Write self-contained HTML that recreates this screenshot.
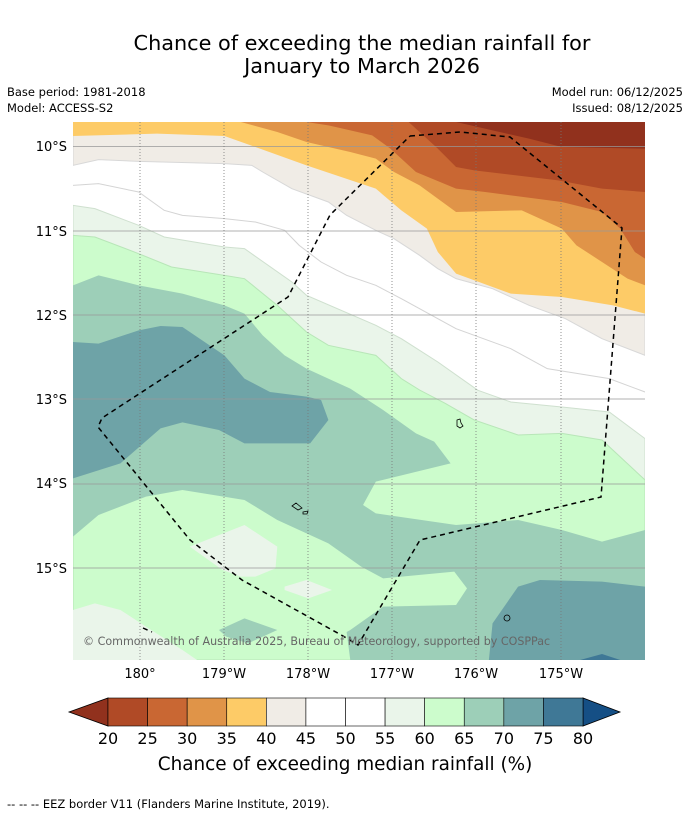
<!DOCTYPE html>
<html><head><meta charset="utf-8"><style>
body{margin:0;background:#fff;width:690px;height:816px;overflow:hidden;font-family:"Liberation Sans","DejaVu Sans",sans-serif}
svg text{font-family:"DejaVu Sans","Liberation Sans",sans-serif}
</style></head><body>
<svg id="s" width="690" height="816" viewBox="0 0 690 816">
<rect width="690" height="816" fill="#fff"/>
<text x="362" y="50" font-size="20.8" text-anchor="middle">Chance of exceeding the median rainfall for</text>
<text x="362" y="73" font-size="20.8" text-anchor="middle">January to March 2026</text>
<text x="7" y="96" font-size="11.5">Base period: 1981-2018</text>
<text x="7" y="112" font-size="11.5">Model: ACCESS-S2</text>
<text x="683" y="96" font-size="11.5" text-anchor="end">Model run: 06/12/2025</text>
<text x="683" y="112" font-size="11.5" text-anchor="end">Issued: 08/12/2025</text>
<defs><clipPath id="mc"><rect x="73" y="122" width="572" height="538"/></clipPath></defs>
<g clip-path="url(#mc)">
<rect x="73" y="122" width="572" height="538" fill="#fff"/>
<g transform="translate(73,122) scale(0.36483,0.33333)" stroke-width="3">
<polygon fill="#f0ece6" stroke="#d8d8d8" points="0,0 1568,0 1568,700 1450,650 1350,590 1250,550 1150,500 1050,470 1000,440 950,400 880,350 830,325 750,280 700,240 600,200 520,150 490,130 415,125 180,118 70,113 0,130"/>
<polygon fill="#fdcb67" points="0,0 1568,0 1568,575 1480,550 1340,525 1200,515 1050,455 1000,390 970,320 900,265 830,200 640,130 500,75 415,42 230,35 0,42"/>
<polygon fill="#e09448" points="460,0 1568,0 1568,490 1520,470 1450,420 1380,370 1340,320 1230,265 1050,270 950,190 880,150 830,110 760,90 640,60 560,30"/>
<polygon fill="#c96733" points="640,0 1568,0 1568,410 1540,390 1500,320 1450,270 1340,240 1130,210 1050,200 940,150 870,80 820,40 700,10"/>
<polygon fill="#b04a26" points="920,0 1568,0 1568,210 1450,200 1330,175 1100,145 1050,135 1000,80"/>
<polygon fill="#91311d" points="1050,0 1568,0 1568,80 1340,75 1250,50 1150,25"/>
<polyline fill="none" stroke="#d4d4d4" points="0,190 70,185 180,210 250,265 300,280 415,290 500,300 580,325 620,370 680,420 750,460 830,490 900,530 1000,590 1050,620 1200,680 1300,740 1470,770 1568,810"/>
<polygon fill="#eaf5ea" stroke="#cfe0cf" points="0,250 60,260 180,310 250,345 415,375 470,380 600,480 640,520 830,610 900,650 1000,720 1110,805 1200,840 1340,855 1470,870 1568,950 1568,1614 0,1614"/>
<polygon fill="#ccfccc" stroke="#b8e6b8" points="0,340 60,345 180,395 270,435 415,460 470,470 560,550 640,630 700,670 830,700 900,770 950,804 1020,844 1100,894 1220,939 1340,934 1450,954 1568,1074 1568,1614 0,1614"/>
<polygon fill="#9dcfb8" points="0,490 70,460 180,490 300,515 415,550 470,575 520,640 580,700 640,740 760,800 850,864 940,934 990,959 1035,1024 830,1079 795,1149 830,1174 1050,1209 1220,1194 1340,1224 1450,1259 1568,1224 1568,1614 760,1614 750,1530 760,1524 850,1454 1050,1449 1080,1399 1045,1349 850,1369 790,1334 700,1264 560,1194 470,1134 300,1104 200,1124 70,1179 0,1244"/>
<polygon fill="#6ea3a7" points="0,660 70,665 180,625 240,612 300,615 415,700 470,770 540,810 640,824 680,834 700,894 650,964 470,964 400,924 300,901 240,919 130,1024 0,1069"/>
<polygon fill="#6ea3a7" points="1140,1614 1150,1504 1220,1394 1280,1374 1450,1379 1568,1394 1568,1614"/>
<polygon fill="#3f7896" points="1390,1614 1450,1596 1500,1614"/>
<polygon fill="#9dcfb8" points="400,1524 470,1489 560,1524 480,1564 420,1544"/>
<polygon fill="#eaf5ea" points="320,1274 470,1209 560,1274 555,1339 500,1364 460,1364 410,1344"/>
<polygon fill="#eaf5ea" points="580,1394 640,1374 710,1404 645,1429 580,1404"/>
<polygon fill="#eaf5ea" points="0,1464 60,1444 130,1464 200,1514 300,1584 340,1614 0,1614"/>
</g>
<g>
<line x1="73" x2="645" y1="146.5" y2="146.5" stroke="#999" stroke-width="0.8"/>
<line x1="73" x2="645" y1="231" y2="231" stroke="#999" stroke-width="0.8"/>
<line x1="73" x2="645" y1="315" y2="315" stroke="#999" stroke-width="0.8"/>
<line x1="73" x2="645" y1="399" y2="399" stroke="#999" stroke-width="0.8"/>
<line x1="73" x2="645" y1="484" y2="484" stroke="#999" stroke-width="0.8"/>
<line x1="73" x2="645" y1="568" y2="568" stroke="#999" stroke-width="0.8"/>
<g stroke="#777" stroke-width="0.8" stroke-dasharray="1,2">
<line x1="140" x2="140" y1="122" y2="660"/><line x1="224" x2="224" y1="122" y2="660"/><line x1="308" x2="308" y1="122" y2="660"/><line x1="392" x2="392" y1="122" y2="660"/><line x1="476" x2="476" y1="122" y2="660"/><line x1="561" x2="561" y1="122" y2="660"/>
</g></g>
<polyline fill="none" stroke="#000" stroke-width="1.5" stroke-dasharray="5,4" points="410,136 460,132 510,137 622,228 601,497 420,540 358,645 343,636 242,580 190,540 98,427 102,418 288,297 330,215 410,136"/>
<polyline fill="none" stroke="#000" stroke-width="1.5" stroke-dasharray="5,4" points="143,628 152,632"/>
<path d="M457,420 l3,-1 l1,4 l2,3 l-3,2 l-3,-2z" fill="none" stroke="#000" stroke-width="0.8"/>
<path d="M292,506 l4,-3 l6,5 l-4,2z M303,512 l5,-1 l-1,3 l-4,0z" fill="none" stroke="#000" stroke-width="0.8"/>
<circle cx="507" cy="618" r="3" fill="none" stroke="#000" stroke-width="0.8"/>
<text x="83" y="645" font-size="11.1" fill="#666">© Commonwealth of Australia 2025, Bureau of Meteorology, supported by COSPPac</text>
</g>
<g font-size="13">
<text x="67" y="151" text-anchor="end">10°S</text><text x="67" y="236" text-anchor="end">11°S</text><text x="67" y="320" text-anchor="end">12°S</text><text x="67" y="404" text-anchor="end">13°S</text><text x="67" y="488" text-anchor="end">14°S</text><text x="67" y="573" text-anchor="end">15°S</text>
</g>
<g font-size="13" text-anchor="middle">
<text x="140" y="678">180°</text><text x="224" y="678">179°W</text><text x="308" y="678">178°W</text><text x="392" y="678">177°W</text><text x="476" y="678">176°W</text><text x="561" y="678">175°W</text>
</g>
<g id="cb"></g>
<text x="345" y="770" font-size="18.4" text-anchor="middle">Chance of exceeding median rainfall (%)</text>
<text x="7" y="808" font-size="11.5">--  --  -- EEZ border V11 (Flanders Marine Institute, 2019).</text>
</svg>
<script>
const levels=[20,25,30,35,40,45,50,55,60,65,70,75,80];
const binColors=["#b04a26","#c96733","#e09448","#fdcb67","#f0ece6","#ffffff","#ffffff","#eaf5ea","#ccfccc","#9dcfb8","#6ea3a7","#3f7896"];
const lowColor="#91311d", highColor="#154f85";
const ns="http://www.w3.org/2000/svg", cb=document.getElementById('cb');
const x0=108,x1=583,y0=698,y1=726;
const sx=v=>x0+(v-levels[0])/(levels[levels.length-1]-levels[0])*(x1-x0);
function mk(t,a){const e=document.createElementNS(ns,t);for(const k in a)e.setAttribute(k,a[k]);cb.appendChild(e);return e;}
const lt=mk('polygon',{points:`69,712 ${x0},${y0} ${x0},${y1}`,fill:lowColor,stroke:'#000','stroke-width':0.8});


const rt=mk('polygon',{points:`620,712 ${x1},${y0} ${x1},${y1}`,fill:highColor,stroke:'#000','stroke-width':0.8});


binColors.forEach((c,i)=>{
 const r=mk('rect',{x:sx(levels[i]),y:y0,width:sx(levels[i+1])-sx(levels[i]),height:y1-y0,fill:c,stroke:'#000','stroke-width':0.6});
 
 
});
levels.forEach(v=>{
 const t=mk('text',{x:sx(v),y:744,'font-size':16,'text-anchor':'middle'});t.textContent=v;
 
 
});
</script>
</body></html>
